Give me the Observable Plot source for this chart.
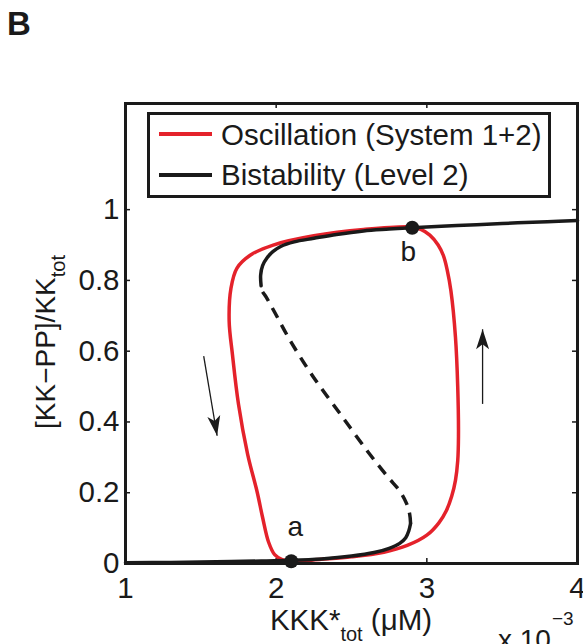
<!DOCTYPE html>
<html><head><meta charset="utf-8">
<script src="https://cdn.jsdelivr.net/npm/d3@7"></script>
<script src="https://cdn.jsdelivr.net/npm/@observablehq/plot@0.6"></script>
<style>
body{margin:0;background:#fff;}
#wrap{position:relative;width:583px;height:644px;overflow:hidden;font-family:"Liberation Sans",Arial,Helvetica,sans-serif;color:#1a1a1a;}
.abs{position:absolute;white-space:nowrap;line-height:28px;font-size:29.5px;}
#wrap svg{position:absolute;left:0;top:0;}
</style></head><body><div id="wrap"></div>
<script>
// ---- axis ticks ----
const xTicks = [1, 2, 3, 4];
const yTicks = [0, 0.2, 0.4, 0.6, 0.8, 1];

// ---- Bistability (Level 2): stable lower branch ----
const lowX = [1.0, 1.3, 1.6, 1.9, 2.1, 2.3, 2.5, 2.65, 2.75, 2.82, 2.86, 2.88, 2.892];
const lowY = [0.002, 0.003, 0.005, 0.007, 0.009, 0.013, 0.021, 0.031, 0.043, 0.057, 0.073, 0.092, 0.113];
// ---- unstable middle branch (dashed) ----
const midX = [2.892, 2.886, 2.865, 2.82, 2.74, 2.61, 2.43, 2.25, 2.10, 1.99, 1.935, 1.905, 1.90];
const midY = [0.113, 0.14, 0.17, 0.205, 0.245, 0.315, 0.42, 0.525, 0.625, 0.71, 0.752, 0.772, 0.785];
// ---- stable upper branch ----
const upX = [1.90, 1.897, 1.91, 1.94, 1.98, 2.03, 2.12, 2.25, 2.4, 2.58, 2.75, 2.9, 3.2, 3.5, 3.8, 4.0];
const upY = [0.785, 0.815, 0.842, 0.864, 0.882, 0.896, 0.909, 0.919, 0.93, 0.94, 0.945, 0.949, 0.955, 0.961, 0.966, 0.969];

// ---- Oscillation (System 1+2): limit cycle ----
const cycX = [2.90, 2.96, 3.02, 3.075, 3.11, 3.135, 3.16, 3.19, 3.205, 3.21, 3.205, 3.19, 3.165, 3.13, 3.08, 3.0, 2.87, 2.715, 2.5, 2.3, 2.10, 2.04, 1.99, 1.95, 1.91, 1.875, 1.81, 1.75, 1.71, 1.688, 1.70, 1.74, 1.83, 1.98, 2.25, 2.58];
const cycY = [0.951, 0.944, 0.928, 0.90, 0.87, 0.83, 0.77, 0.64, 0.50, 0.36, 0.29, 0.235, 0.19, 0.15, 0.115, 0.08, 0.051, 0.032, 0.019, 0.012, 0.006, 0.011, 0.025, 0.06, 0.13, 0.20, 0.31, 0.45, 0.59, 0.685, 0.778, 0.835, 0.872, 0.90, 0.926, 0.944];

// ---- marked points ----
const ptLabel = ["a", "b"];
const ptX = [2.10, 2.903];
const ptY = [0.0065, 0.949];

// ---- direction arrows (tail -> tip) ----
const arrX1 = [1.519, 3.37];
const arrY1 = [0.586, 0.451];
const arrX2 = [1.608, 3.37];
const arrY2 = [0.361, 0.662];

const W = 583, H = 644, mL = 125, mR = 6, mT = 103, mB = 81;
const xDom = [1, 4], yDom = [0, 1.3];
const RED = "#e4222b", INK = "#1a1a1a";

const sx = d3.scaleLinear(xDom, [mL, W - mR]);
const sy = d3.scaleLinear(yDom, [H - mB, mT]);
const arrows = arrX1.map((x1, i) => ({x1, y1: arrY1[i], x2: arrX2[i], y2: arrY2[i]}));
const angle = d => {
  const dx = sx(d.x2) - sx(d.x1), dy = sy(d.y2) - sy(d.y1);
  return Math.atan2(dx, -dy) * 180 / Math.PI;
};
const arrowHead = {draw(ctx) { ctx.moveTo(0, 0); ctx.lineTo(-6.5, 20); ctx.lineTo(0, 15); ctx.lineTo(6.5, 20); ctx.closePath(); }};
const pts = ptLabel.map((l, i) => ({l, x: ptX[i], y: ptY[i]}));
const plotH = H - mT - mB, plotW = W - mL - mR;

const svg = Plot.plot({
  width: W, height: H,
  marginLeft: mL, marginRight: mR, marginTop: mT, marginBottom: mB,
  x: {domain: xDom},
  y: {domain: yDom},
  style: {fontFamily: '"Liberation Sans", Arial, Helvetica, sans-serif', fontSize: "28px", color: INK, background: "white"},
  marks: [
    Plot.axisX({ticks: xTicks, tickSize: 0, tickPadding: 14, fontSize: 29.5, label: null, tickFormat: d => `${d}`}),
    Plot.axisY({ticks: yTicks, tickSize: 0, tickPadding: 6, fontSize: 29.5, label: null, tickFormat: d => `${d}`}),
    Plot.tickX(xTicks, {x: d => d, insetTop: plotH - 5, stroke: INK, strokeWidth: 1.5}),
    Plot.tickX(xTicks, {x: d => d, insetBottom: plotH - 5, stroke: INK, strokeWidth: 1.5}),
    Plot.tickY(yTicks, {y: d => d, insetRight: plotW - 5, stroke: INK, strokeWidth: 1.5}),
    Plot.tickY(yTicks, {y: d => d, insetLeft: plotW - 5, stroke: INK, strokeWidth: 1.5}),
    Plot.line(cycX, {x: cycX, y: cycY, curve: "catmull-rom-closed", stroke: RED, strokeWidth: 3.5}),
    Plot.line(lowX, {x: lowX, y: lowY, curve: "catmull-rom", stroke: INK, strokeWidth: 3.5}),
    Plot.line(midX, {x: midX, y: midY, curve: "catmull-rom", stroke: INK, strokeWidth: 3.5, strokeDasharray: "11,8", strokeLinecap: "butt"}),
    Plot.line(upX, {x: upX, y: upY, curve: "catmull-rom", stroke: INK, strokeWidth: 3.5}),
    Plot.dot(pts, {x: "x", y: "y", r: 7, fill: INK, stroke: null}),
    Plot.text(pts.slice(0,1), {x: "x", y: "y", text: "l", dx: 4, dy: -34, fontSize: 28, fill: INK}),
    Plot.text(pts.slice(1), {x: "x", y: "y", text: "l", dx: -4, dy: 24, fontSize: 28, fill: INK}),
    Plot.link(arrows, {x1: "x1", y1: "y1", x2: "x2", y2: "y2", stroke: INK, strokeWidth: 1.3}),
    Plot.dot(arrows, {x: "x2", y: "y2", symbol: arrowHead, rotate: angle, fill: INK, stroke: null}),
    Plot.frame({stroke: INK, strokeWidth: 3})
  ]
});
const wrap = document.getElementById("wrap");
wrap.appendChild(svg);

function add(html, style) {
  const d = document.createElement("div");
  d.className = "abs";
  d.innerHTML = html;
  Object.assign(d.style, style);
  wrap.appendChild(d);
  return d;
}
// panel letter
add("B", {left: "7px", top: "7px", fontSize: "33px", lineHeight: "33px", fontWeight: "bold"});
// x label
add('KKK*<span style="font-size:20px;position:relative;top:11px">tot</span> (μM)', {left: "351px", top: "606px", transform: "translateX(-50%)"});
// exponent
add('x 10<span style="font-size:19px;position:relative;top:-24px;margin-left:1px">−3</span>', {left: "498px", top: "626px", fontSize: "28px"});
// y label
add('[KK−PP]/KK<span style="font-size:20px;position:relative;top:10px">tot</span>', {left: "47px", top: "342px", fontSize: "28px", transform: "translate(-50%,-50%) rotate(-90deg)"});
// legend
const lg = add("", {left: "147px", top: "112px", width: "404px", height: "86px", boxSizing: "border-box", border: "3px solid " + INK, background: "white"});
const legendItems = [["Oscillation (System 1+2)", RED], ["Bistability (Level 2)", INK]];
legendItems.forEach(([t, c], i) => {
  const sw = document.createElement("div");
  Object.assign(sw.style, {position: "absolute", left: "9px", top: (16.5 + 41.5 * i) + "px", width: "53px", height: "4px", background: c});
  lg.appendChild(sw);
  const tx = document.createElement("div");
  tx.className = "abs";
  tx.textContent = t;
  Object.assign(tx.style, {left: "71px", top: (5.8 + 40 * i) + "px"});
  lg.appendChild(tx);
});
</script>
</body></html>
